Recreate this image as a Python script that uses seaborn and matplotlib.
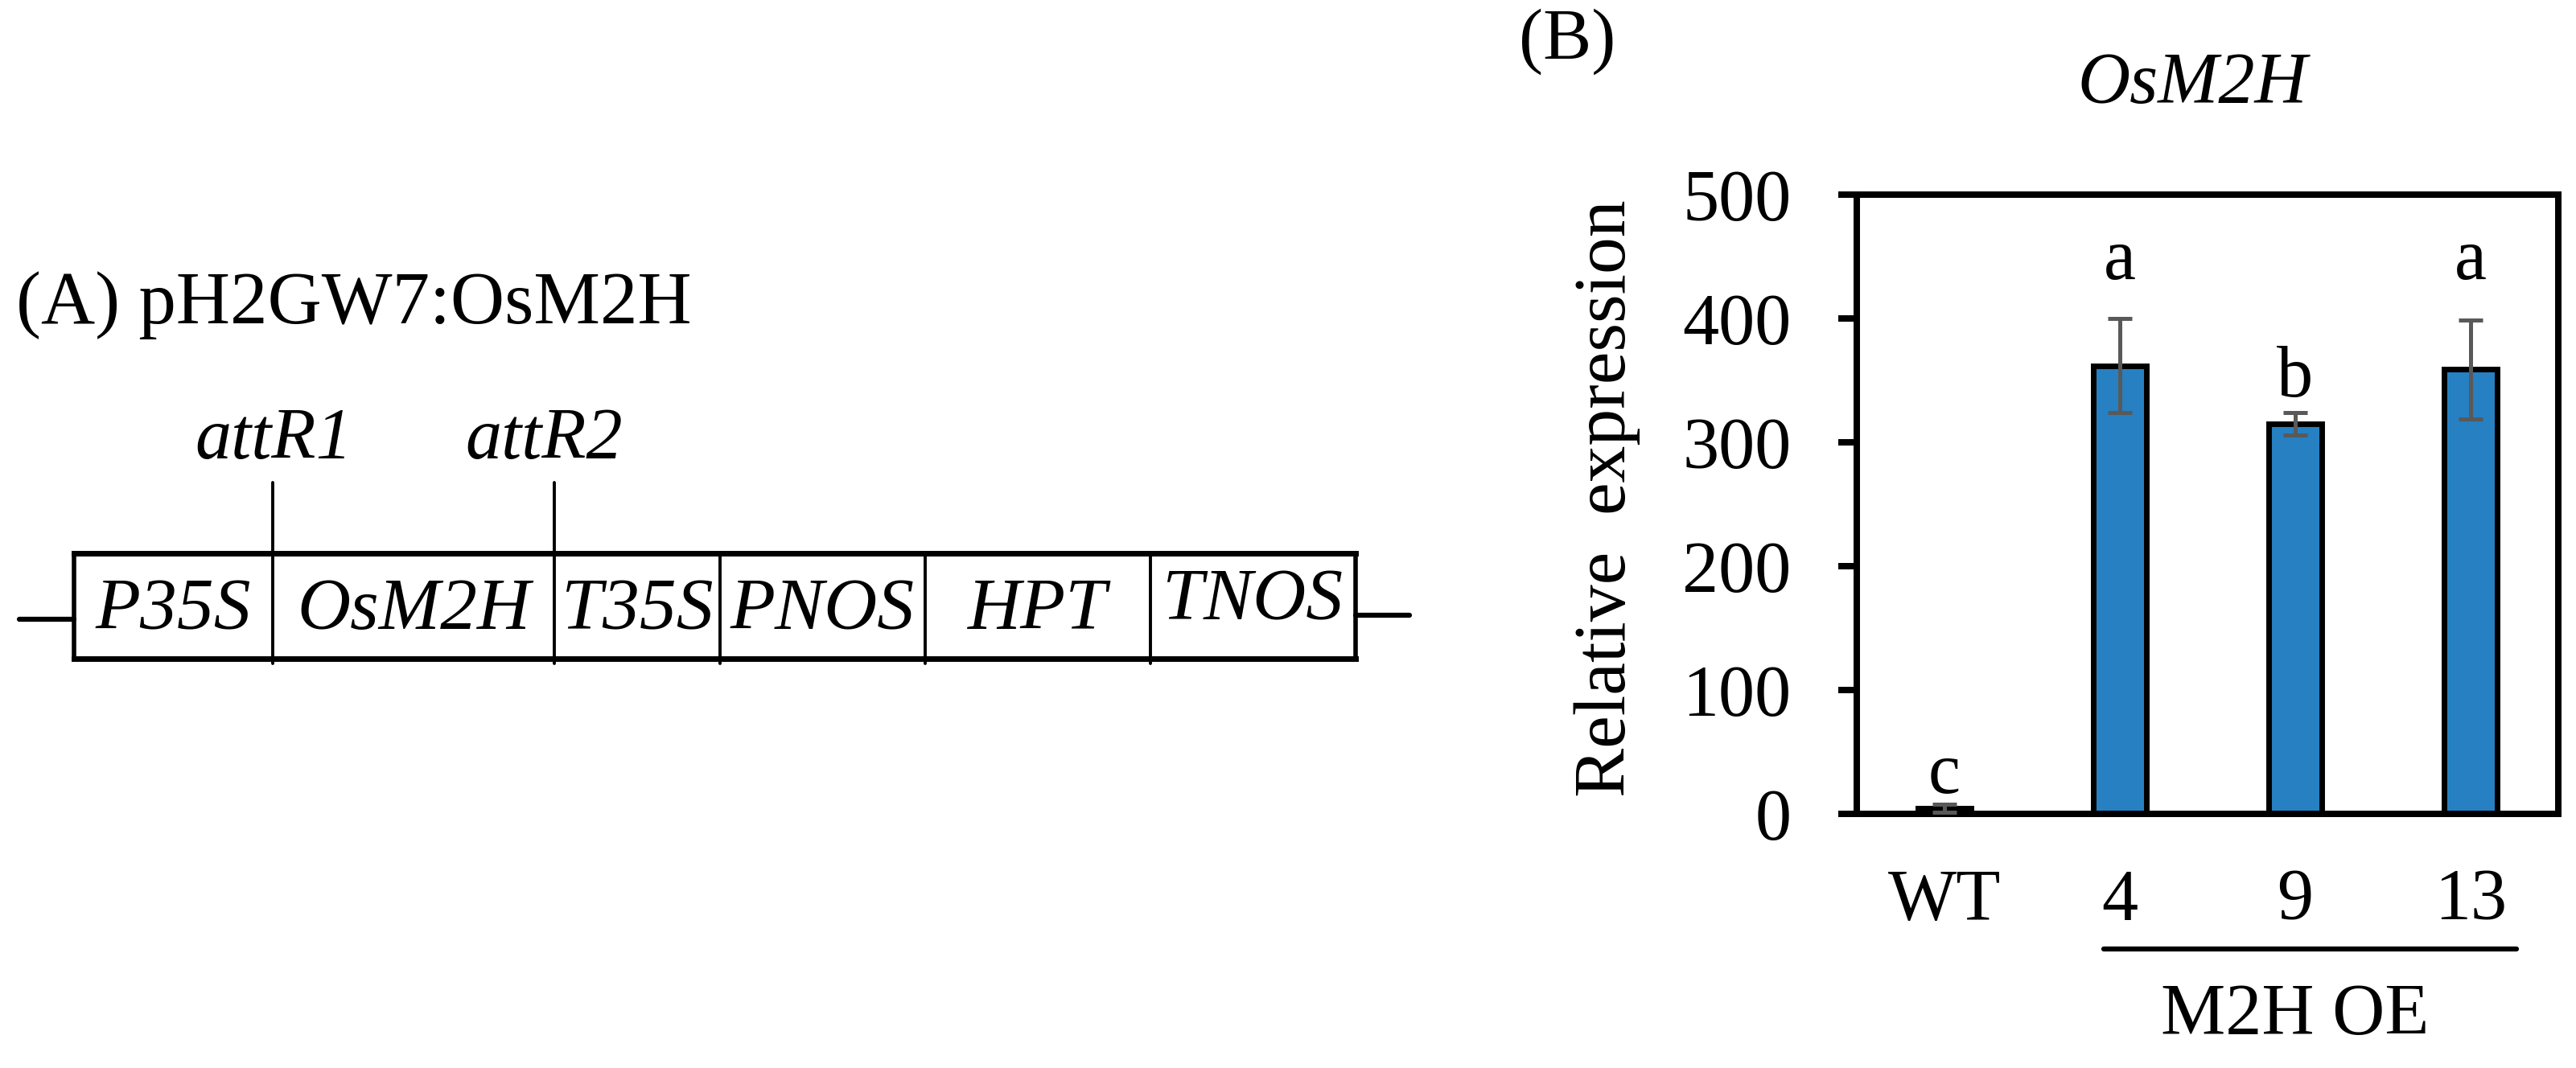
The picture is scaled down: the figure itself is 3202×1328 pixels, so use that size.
import matplotlib
matplotlib.use("Agg")
import matplotlib.pyplot as plt
import matplotlib.transforms as mtransforms
import seaborn as sns
import pandas as pd

# Panel B data
groups = ["WT", "4", "9", "13"]
means = [4.5, 362, 315, 359]
errors = [3, 38, 9, 40]
letters = ["c", "a", "b", "a"]
letter_y = [17, 432, 337, 432]

# Panel A construct
elements = ["P35S", "OsM2H", "T35S", "PNOS", "HPT", "TNOS"]
sites = ["attR1", "attR2"]

# Layout of the construct drawing (figure pixels)
edges_px = [92, 339, 689, 895, 1150, 1430, 1685]
site_px = [339, 689]
box_top, box_bottom = 688, 819

W, H = 3202, 1328
BAR_COLOR = "#2680C2"
ERR_COLOR = "#595959"
FS = 65

sns.set_theme(style="white")
plt.rcParams["font.family"] = ["Liberation Serif", "DejaVu Serif"]
plt.rcParams["text.color"] = "black"
plt.rcParams["axes.labelcolor"] = "black"
plt.rcParams["xtick.color"] = "black"
plt.rcParams["ytick.color"] = "black"

fig = plt.figure(figsize=(W / 100, H / 100), dpi=100)

# ---------------- Panel A: vector map ----------------
ax0 = fig.add_axes([0, 0, 1, 1])
ax0.set_xlim(0, W)
ax0.set_ylim(H, 0)
ax0.axis("off")

ax0.text(20, 402, "(A) pH2GW7:OsM2H", fontsize=FS + 2, ha="left", va="baseline")

# outer box
ax0.plot([edges_px[0], edges_px[-1]], [box_top, box_top], color="black", lw=5, solid_capstyle="projecting")
ax0.plot([edges_px[0], edges_px[-1]], [box_bottom, box_bottom], color="black", lw=5, solid_capstyle="projecting")
ax0.plot([edges_px[0], edges_px[0]], [box_top, box_bottom], color="black", lw=4)
ax0.plot([edges_px[-1], edges_px[-1]], [box_top, box_bottom], color="black", lw=4)
for x in edges_px[1:-1]:
    ax0.plot([x, x], [box_top, box_bottom + 6], color="black", lw=2.8)

# flanking lines
ax0.plot([24, edges_px[0]], [770, 770], color="black", lw=4.5)
ax0.plot([edges_px[-1], 1752], [765, 765], color="black", lw=4.5)

for i, name in enumerate(elements):
    xc = (edges_px[i] + edges_px[i + 1]) / 2
    yc = 748 if name == "TNOS" else 760
    ax0.text(xc, yc, name, fontsize=FS + 1, style="italic", ha="center", va="center")

label_x = [340, 676]
for name, x, lx in zip(sites, site_px, label_x):
    ax0.plot([x, x], [600, box_top], color="black", lw=2.8)
    ax0.text(lx, 570, name, fontsize=FS, style="italic", ha="center", va="baseline")

# ---------------- Panel B: bar chart ----------------
left, right = 2308 / W, 3180 / W
bottom, top = (H - 1012) / H, (H - 242) / H
ax = fig.add_axes([left, bottom, right - left, top - bottom])

df = pd.DataFrame({"group": groups, "value": means})
sns.barplot(data=df, x="group", y="value", color=BAR_COLOR, saturation=1,
            width=0.30, edgecolor="black", linewidth=5, errorbar=None, ax=ax)
ax.errorbar(range(len(groups)), means, yerr=errors, fmt="none", ecolor=ERR_COLOR,
            elinewidth=3.6, capsize=11, capthick=3.6, zorder=5)

for i, (ly, t) in enumerate(zip(letter_y, letters)):
    ax.text(i, ly, t, fontsize=FS, ha="center", va="baseline")

ax.set_xlim(-0.5, len(groups) - 0.5)
ax.set_ylim(0, 500)
ax.set_yticks(range(0, 501, 100))
ax.set_xlabel("")
ax.set_ylabel("Relative  expression", fontsize=FS + 1)
ax.yaxis.set_label_coords(-0.309, 0.509)

for s in ax.spines.values():
    s.set_visible(True)
    s.set_color("black")
    s.set_linewidth(5.75)

ax.tick_params(axis="y", which="major", left=True, length=16.5, width=5.75,
               direction="out", pad=42, labelsize=FS, color="black")
ax.tick_params(axis="x", which="major", bottom=False, length=0, pad=49, labelsize=FS)

ax.text(0.479, 1.148, "OsM2H", transform=ax.transAxes, fontsize=FS,
        style="italic", ha="center", va="baseline")

# group bracket under transgenic lines
trans = mtransforms.blended_transform_factory(ax.transData, ax.transAxes)
ax.plot([0.91, 3.26], [-0.218, -0.218], color="black", lw=4.5, transform=trans, clip_on=False)
ax.text(2.0, -0.356, "M2H OE", transform=trans, fontsize=FS, ha="center", va="baseline")

fig.text(1888 / W, 1 - 74 / H, "(B)", fontsize=FS, ha="left", va="baseline")

fig.savefig("out.png", dpi=100, facecolor="white")
